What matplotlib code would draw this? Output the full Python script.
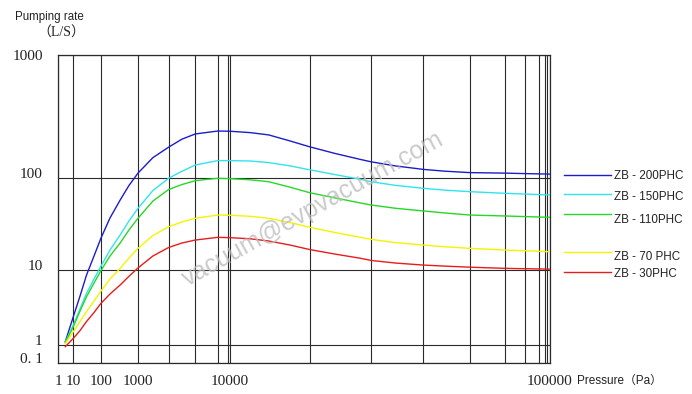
import numpy as np
import matplotlib
matplotlib.use("Agg")
import matplotlib.pyplot as plt
from matplotlib.lines import Line2D

# ================== DATA ==================
pressure = [3, 10, 17.5, 30, 56, 100, 175, 330, 570, 1000, 1560, 2500, 3540,
            5000, 7500, 10000, 11900, 14000, 16850, 20000, 23640, 28000,
            30000, 34260, 40000, 44380, 50000, 60000, 70000, 100000]

zb_200 = [1.09, 2.37, 4.50, 8.64, 14.3, 22.4, 37.0, 58.0, 83.3, 110, 147, 179,
          208, 229, 242, 241, 235, 225, 201, 180, 159, 142, 136, 126, 118, 114,
          111, 110, 109, 108]
zb_150 = [1.08, 1.83, 3.01, 4.90, 7.63, 11.1, 16.6, 24.2, 34.3, 47.1, 73.5, 100,
          114, 128, 139, 139, 138, 134, 126, 117, 107, 97.3, 91.6, 83.7, 77.7,
          74.1, 71.4, 68.5, 67.3, 65.7]
zb_110 = [1.06, 1.74, 2.83, 4.41, 6.74, 9.94, 14.3, 19.8, 27.4, 36.7, 56.5, 75.4,
          85.4, 94.0, 99.8, 98.8, 96.1, 91.6, 79.9, 69.6, 61.1, 53.8, 51.2, 47.2,
          44.1, 41.9, 39.8, 38.9, 38.3, 37.6]
zb_70 = [1.03, 1.49, 2.04, 2.77, 3.86, 5.26, 7.63, 10.5, 13.6, 17.3, 23.9, 29.7,
         33.5, 36.7, 39.8, 39.6, 38.6, 36.7, 33.0, 29.3, 25.7, 22.8, 21.7, 20.0,
         18.8, 18.0, 17.3, 16.6, 16.3, 15.9]
zb_30 = [0.757, 1.21, 1.54, 2.04, 2.70, 3.59, 4.79, 6.34, 8.30, 10.6, 14.3, 17.7,
         19.8, 21.3, 22.8, 22.6, 22.0, 20.8, 18.8, 16.8, 15.0, 13.5, 12.8, 12.0,
         11.4, 11.1, 10.8, 10.5, 10.4, 10.3]

series_names = ["ZB - 200PHC", "ZB - 150PHC", "ZB - 110PHC", "ZB - 70 PHC", "ZB - 30PHC"]
series_values = [zb_200, zb_150, zb_110, zb_70, zb_30]
series_colors = ["#1c1cc8", "#30e4ec", "#26d826", "#f4f400", "#e81c1c"]

x_tick_values = [1, 10, 100, 1000, 10000, 100000]
x_tick_labels = ["1", "10", "100", "1000", "10000", "100000"]
y_tick_values = [0.1, 1, 10, 100, 1000]
y_tick_labels = ["0. 1", "1", "10", "100", "1000"]

# the drawing uses an irregular "log-like" scale: grid values and where they sit
x_grid = [1, 10, 100, 1000, 2500, 5000, 7500, 9000, 10000, 20000, 30000,
          40000, 50000, 60000, 70000, 80000, 90000, 95000, 100000]
x_grid_pos = [0, 0.0311, 0.0874, 0.1626, 0.225, 0.279, 0.3246, 0.3461, 0.3496,
              0.5116, 0.6362, 0.7419, 0.838, 0.9079, 0.9486, 0.977, 0.9898,
              0.9945, 1.0]
y_grid_pos = [0, 0.0592, 0.3006, 0.6002, 1.0]

# ================== SCALES ==================
XL = np.log10(x_grid)
YL = np.log10(y_tick_values)


def x_fwd(v):
    return np.interp(np.log10(np.clip(v, 1e-12, None)), XL, x_grid_pos)


def x_inv(f):
    return 10 ** np.interp(f, x_grid_pos, XL)


def y_fwd(v):
    return np.interp(np.log10(np.clip(v, 1e-12, None)), YL, y_grid_pos)


def y_inv(f):
    return 10 ** np.interp(f, y_grid_pos, YL)


W, H = 692, 394
fig = plt.figure(figsize=(W / 100, H / 100), dpi=100)
ax = fig.add_axes([58 / W, 1 - 362.7 / H, 492 / W, 307.4 / H])
ax.set_xscale("function", functions=(x_fwd, x_inv))
ax.set_yscale("function", functions=(y_fwd, y_inv))

for vals, col in zip(series_values, series_colors):
    ax.plot(pressure, vals, color=col, lw=1.0, solid_joinstyle="round", zorder=3)

ax.set_xlim(1, 100000)
ax.set_ylim(0.1, 1000)

ax.set_xticks(x_tick_values)
ax.set_xticklabels(x_tick_labels)
ax.set_xticks([v for v in x_grid if v not in x_tick_values], minor=True)
ax.set_yticks(y_tick_values)
ax.set_yticklabels(y_tick_labels)
ax.yaxis.set_minor_locator(matplotlib.ticker.NullLocator())

grid_col = "#2a2a2a"
ax.grid(True, which="both", color=grid_col, lw=0.8, zorder=1)
for s in ax.spines.values():
    s.set_color(grid_col)
    s.set_linewidth(0.9)

ax.tick_params(which="both", length=0)
ax.tick_params(axis="x", pad=9, labelsize=11)
ax.tick_params(axis="y", pad=11, labelsize=11)
for lab in ax.get_xticklabels() + ax.get_yticklabels():
    lab.set_family("Liberation Serif")
    lab.set_color("#222222")
for lab in ax.get_yticklabels()[:4]:
    lab.set_va("baseline")

# ================== TEXT ==================
fig.text(49 / W, 1 - 17 / H, "Pumping rate", ha="center", va="center",
         family="Liberation Sans", fontsize=8.3, color="#222222")
fig.text(61 / W, 1 - 33 / H, "（L/S）", ha="center", va="center",
         family=["Liberation Serif", "Noto Sans CJK SC"], fontsize=10, color="#222222")
fig.text(577 / W, 1 - 381 / H, "Pressure（Pa）", ha="left", va="center",
         family=["Liberation Sans", "Noto Sans CJK SC"], fontsize=8.5, color="#222222")

# watermark
fig.text(313 / W, 1 - 209 / H, "vacuum@evpvacuum.com", ha="center", va="center",
         rotation=29, rotation_mode="anchor", family="Liberation Sans",
         fontsize=18, color="#bdbdbd", alpha=0.8, zorder=5)

# custom legend on the right
leg_line_y = [175, 194, 214, 252, 272]
leg_text_y = [176, 197, 220, 257, 274]
for name, col, ly, ty in zip(series_names, series_colors, leg_line_y, leg_text_y):
    fig.add_artist(Line2D([564 / W, 611 / W], [1 - ly / H] * 2,
                          transform=fig.transFigure, color=col, lw=1.0))
    fig.text(614 / W, 1 - ty / H, name, ha="left", va="center",
             family="Liberation Sans", fontsize=8.4, color="#222222")

fig.savefig("out.png", dpi=100)
